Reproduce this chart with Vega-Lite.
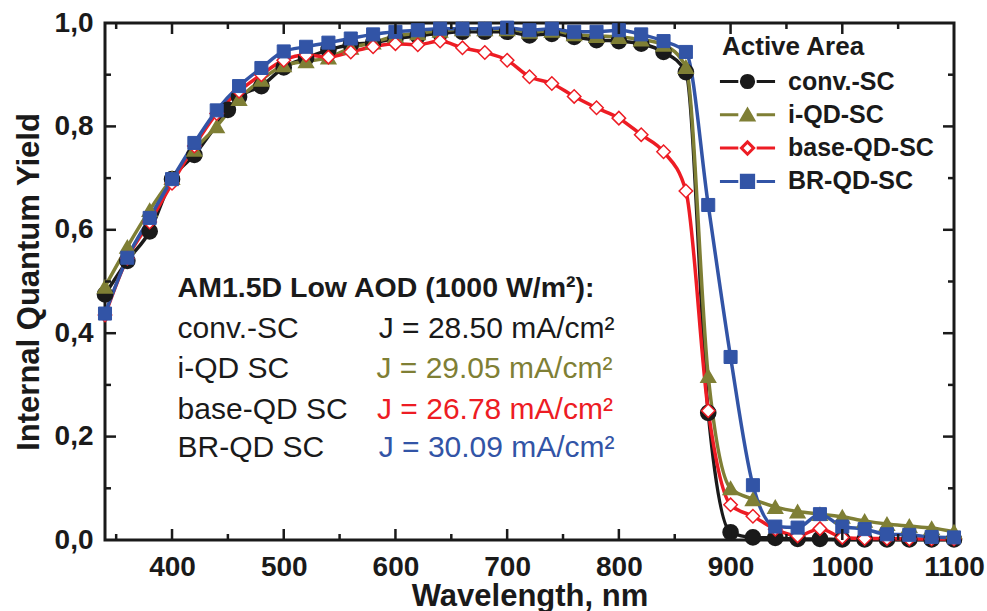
{
  "$schema": "https://vega.github.io/schema/vega-lite/v6.json",
  "width": 849,
  "height": 517,
  "autosize": {"type": "none"},
  "padding": {"left": 105, "top": 23, "right": 33, "bottom": 71},
  "background": "white",
  "config": {
    "view": {"stroke": "#1a1a1a", "strokeWidth": 3},
    "font": "Liberation Sans",
    "axis": {"grid": false, "domain": false, "ticks": false, "labelFlush": false, "labelOverlap": false, "labelColor": "#1a1a1a", "titleColor": "#1a1a1a", "labelFont": "Liberation Sans", "titleFont": "Liberation Sans"}
  },
  "datasets": {
    "iqy": [
      {"series": "conv.-SC", "nm": 340, "q": 0.475},
      {"series": "conv.-SC", "nm": 360, "q": 0.54},
      {"series": "conv.-SC", "nm": 380, "q": 0.597},
      {"series": "conv.-SC", "nm": 400, "q": 0.698},
      {"series": "conv.-SC", "nm": 420, "q": 0.745},
      {"series": "conv.-SC", "nm": 450, "q": 0.832},
      {"series": "conv.-SC", "nm": 460, "q": 0.857},
      {"series": "conv.-SC", "nm": 480, "q": 0.878},
      {"series": "conv.-SC", "nm": 500, "q": 0.914},
      {"series": "conv.-SC", "nm": 520, "q": 0.932},
      {"series": "conv.-SC", "nm": 540, "q": 0.948},
      {"series": "conv.-SC", "nm": 560, "q": 0.958},
      {"series": "conv.-SC", "nm": 580, "q": 0.962},
      {"series": "conv.-SC", "nm": 600, "q": 0.970},
      {"series": "conv.-SC", "nm": 620, "q": 0.975},
      {"series": "conv.-SC", "nm": 640, "q": 0.980},
      {"series": "conv.-SC", "nm": 660, "q": 0.983},
      {"series": "conv.-SC", "nm": 680, "q": 0.983},
      {"series": "conv.-SC", "nm": 700, "q": 0.983},
      {"series": "conv.-SC", "nm": 720, "q": 0.976},
      {"series": "conv.-SC", "nm": 740, "q": 0.979},
      {"series": "conv.-SC", "nm": 760, "q": 0.973},
      {"series": "conv.-SC", "nm": 780, "q": 0.967},
      {"series": "conv.-SC", "nm": 800, "q": 0.965},
      {"series": "conv.-SC", "nm": 820, "q": 0.960},
      {"series": "conv.-SC", "nm": 840, "q": 0.944},
      {"series": "conv.-SC", "nm": 860, "q": 0.905},
      {"series": "conv.-SC", "nm": 880, "q": 0.246},
      {"series": "conv.-SC", "nm": 900, "q": 0.015},
      {"series": "conv.-SC", "nm": 920, "q": 0.005},
      {"series": "conv.-SC", "nm": 940, "q": 0.004},
      {"series": "conv.-SC", "nm": 960, "q": 0.002},
      {"series": "conv.-SC", "nm": 980, "q": 0.002},
      {"series": "conv.-SC", "nm": 1000, "q": 0.001},
      {"series": "conv.-SC", "nm": 1020, "q": 0.001},
      {"series": "conv.-SC", "nm": 1040, "q": 0.001},
      {"series": "conv.-SC", "nm": 1060, "q": 0.001},
      {"series": "conv.-SC", "nm": 1080, "q": 0.001},
      {"series": "conv.-SC", "nm": 1100, "q": 0.001},
      {"series": "i-QD-SC", "nm": 340, "q": 0.49},
      {"series": "i-QD-SC", "nm": 360, "q": 0.567},
      {"series": "i-QD-SC", "nm": 380, "q": 0.638},
      {"series": "i-QD-SC", "nm": 400, "q": 0.70},
      {"series": "i-QD-SC", "nm": 420, "q": 0.755},
      {"series": "i-QD-SC", "nm": 440, "q": 0.80},
      {"series": "i-QD-SC", "nm": 460, "q": 0.853},
      {"series": "i-QD-SC", "nm": 480, "q": 0.89},
      {"series": "i-QD-SC", "nm": 500, "q": 0.918},
      {"series": "i-QD-SC", "nm": 520, "q": 0.926},
      {"series": "i-QD-SC", "nm": 540, "q": 0.933},
      {"series": "i-QD-SC", "nm": 560, "q": 0.952},
      {"series": "i-QD-SC", "nm": 580, "q": 0.962},
      {"series": "i-QD-SC", "nm": 600, "q": 0.975},
      {"series": "i-QD-SC", "nm": 620, "q": 0.980},
      {"series": "i-QD-SC", "nm": 640, "q": 0.985},
      {"series": "i-QD-SC", "nm": 660, "q": 0.988},
      {"series": "i-QD-SC", "nm": 680, "q": 0.988},
      {"series": "i-QD-SC", "nm": 700, "q": 0.988},
      {"series": "i-QD-SC", "nm": 720, "q": 0.983},
      {"series": "i-QD-SC", "nm": 740, "q": 0.985},
      {"series": "i-QD-SC", "nm": 760, "q": 0.978},
      {"series": "i-QD-SC", "nm": 780, "q": 0.975},
      {"series": "i-QD-SC", "nm": 800, "q": 0.973},
      {"series": "i-QD-SC", "nm": 820, "q": 0.968},
      {"series": "i-QD-SC", "nm": 840, "q": 0.958},
      {"series": "i-QD-SC", "nm": 860, "q": 0.915},
      {"series": "i-QD-SC", "nm": 880, "q": 0.317},
      {"series": "i-QD-SC", "nm": 900, "q": 0.10},
      {"series": "i-QD-SC", "nm": 920, "q": 0.079},
      {"series": "i-QD-SC", "nm": 940, "q": 0.064},
      {"series": "i-QD-SC", "nm": 960, "q": 0.055},
      {"series": "i-QD-SC", "nm": 980, "q": 0.050},
      {"series": "i-QD-SC", "nm": 1000, "q": 0.045},
      {"series": "i-QD-SC", "nm": 1020, "q": 0.037},
      {"series": "i-QD-SC", "nm": 1040, "q": 0.031},
      {"series": "i-QD-SC", "nm": 1060, "q": 0.027},
      {"series": "i-QD-SC", "nm": 1080, "q": 0.023},
      {"series": "i-QD-SC", "nm": 1100, "q": 0.016},
      {"series": "base-QD-SC", "nm": 340, "q": 0.435},
      {"series": "base-QD-SC", "nm": 360, "q": 0.545},
      {"series": "base-QD-SC", "nm": 380, "q": 0.615},
      {"series": "base-QD-SC", "nm": 400, "q": 0.69},
      {"series": "base-QD-SC", "nm": 420, "q": 0.762},
      {"series": "base-QD-SC", "nm": 440, "q": 0.825},
      {"series": "base-QD-SC", "nm": 460, "q": 0.868},
      {"series": "base-QD-SC", "nm": 480, "q": 0.90},
      {"series": "base-QD-SC", "nm": 500, "q": 0.928},
      {"series": "base-QD-SC", "nm": 520, "q": 0.938},
      {"series": "base-QD-SC", "nm": 540, "q": 0.934},
      {"series": "base-QD-SC", "nm": 560, "q": 0.944},
      {"series": "base-QD-SC", "nm": 580, "q": 0.954},
      {"series": "base-QD-SC", "nm": 600, "q": 0.960},
      {"series": "base-QD-SC", "nm": 620, "q": 0.958},
      {"series": "base-QD-SC", "nm": 640, "q": 0.965},
      {"series": "base-QD-SC", "nm": 660, "q": 0.952},
      {"series": "base-QD-SC", "nm": 680, "q": 0.943},
      {"series": "base-QD-SC", "nm": 700, "q": 0.928},
      {"series": "base-QD-SC", "nm": 720, "q": 0.896},
      {"series": "base-QD-SC", "nm": 740, "q": 0.883},
      {"series": "base-QD-SC", "nm": 760, "q": 0.858},
      {"series": "base-QD-SC", "nm": 780, "q": 0.836},
      {"series": "base-QD-SC", "nm": 800, "q": 0.816},
      {"series": "base-QD-SC", "nm": 820, "q": 0.784},
      {"series": "base-QD-SC", "nm": 840, "q": 0.751},
      {"series": "base-QD-SC", "nm": 860, "q": 0.675},
      {"series": "base-QD-SC", "nm": 880, "q": 0.25},
      {"series": "base-QD-SC", "nm": 900, "q": 0.068},
      {"series": "base-QD-SC", "nm": 920, "q": 0.046},
      {"series": "base-QD-SC", "nm": 940, "q": 0.021},
      {"series": "base-QD-SC", "nm": 960, "q": 0.008},
      {"series": "base-QD-SC", "nm": 980, "q": 0.022},
      {"series": "base-QD-SC", "nm": 1000, "q": 0.005},
      {"series": "base-QD-SC", "nm": 1020, "q": 0.003},
      {"series": "base-QD-SC", "nm": 1040, "q": 0.003},
      {"series": "base-QD-SC", "nm": 1060, "q": 0.002},
      {"series": "base-QD-SC", "nm": 1080, "q": 0.002},
      {"series": "base-QD-SC", "nm": 1100, "q": 0.002},
      {"series": "BR-QD-SC", "nm": 340, "q": 0.438},
      {"series": "BR-QD-SC", "nm": 360, "q": 0.546},
      {"series": "BR-QD-SC", "nm": 380, "q": 0.623},
      {"series": "BR-QD-SC", "nm": 400, "q": 0.698},
      {"series": "BR-QD-SC", "nm": 420, "q": 0.768},
      {"series": "BR-QD-SC", "nm": 440, "q": 0.831},
      {"series": "BR-QD-SC", "nm": 460, "q": 0.878},
      {"series": "BR-QD-SC", "nm": 480, "q": 0.913},
      {"series": "BR-QD-SC", "nm": 500, "q": 0.945},
      {"series": "BR-QD-SC", "nm": 520, "q": 0.954},
      {"series": "BR-QD-SC", "nm": 540, "q": 0.962},
      {"series": "BR-QD-SC", "nm": 560, "q": 0.970},
      {"series": "BR-QD-SC", "nm": 580, "q": 0.978},
      {"series": "BR-QD-SC", "nm": 600, "q": 0.983},
      {"series": "BR-QD-SC", "nm": 620, "q": 0.986},
      {"series": "BR-QD-SC", "nm": 640, "q": 0.989},
      {"series": "BR-QD-SC", "nm": 660, "q": 0.989},
      {"series": "BR-QD-SC", "nm": 680, "q": 0.989},
      {"series": "BR-QD-SC", "nm": 700, "q": 0.991},
      {"series": "BR-QD-SC", "nm": 720, "q": 0.986},
      {"series": "BR-QD-SC", "nm": 740, "q": 0.989},
      {"series": "BR-QD-SC", "nm": 760, "q": 0.983},
      {"series": "BR-QD-SC", "nm": 780, "q": 0.983},
      {"series": "BR-QD-SC", "nm": 800, "q": 0.986},
      {"series": "BR-QD-SC", "nm": 820, "q": 0.978},
      {"series": "BR-QD-SC", "nm": 840, "q": 0.965},
      {"series": "BR-QD-SC", "nm": 860, "q": 0.944},
      {"series": "BR-QD-SC", "nm": 880, "q": 0.648},
      {"series": "BR-QD-SC", "nm": 900, "q": 0.354},
      {"series": "BR-QD-SC", "nm": 920, "q": 0.106},
      {"series": "BR-QD-SC", "nm": 940, "q": 0.026},
      {"series": "BR-QD-SC", "nm": 960, "q": 0.024},
      {"series": "BR-QD-SC", "nm": 980, "q": 0.050},
      {"series": "BR-QD-SC", "nm": 1000, "q": 0.026},
      {"series": "BR-QD-SC", "nm": 1020, "q": 0.021},
      {"series": "BR-QD-SC", "nm": 1040, "q": 0.011},
      {"series": "BR-QD-SC", "nm": 1060, "q": 0.010},
      {"series": "BR-QD-SC", "nm": 1080, "q": 0.006},
      {"series": "BR-QD-SC", "nm": 1100, "q": 0.005}
    ],
    "xmajor": [{"nm": 400}, {"nm": 500}, {"nm": 600}, {"nm": 700}, {"nm": 800}, {"nm": 900}, {"nm": 1000}],
    "xminor": [{"nm": 350}, {"nm": 450}, {"nm": 550}, {"nm": 650}, {"nm": 750}, {"nm": 850}, {"nm": 950}, {"nm": 1050}],
    "ymajor": [{"q": 0.2}, {"q": 0.4}, {"q": 0.6}, {"q": 0.8}],
    "yminor": [{"q": 0.1}, {"q": 0.3}, {"q": 0.5}, {"q": 0.7}, {"q": 0.9}],
    "header": [
      {"nm": 405, "q": 0.470, "txt": "AM1.5D Low AOD (1000 W/m²):"}
    ],
    "names": [
      {"nm": 405, "q": 0.390, "txt": "conv.-SC"},
      {"nm": 405, "q": 0.3125, "txt": "i-QD SC"},
      {"nm": 405, "q": 0.235, "txt": "base-QD SC"},
      {"nm": 405, "q": 0.161, "txt": "BR-QD SC"}
    ],
    "currents": [
      {"series": "conv.-SC", "nm": 585, "q": 0.390, "txt": "J = 28.50 mA/cm²"},
      {"series": "i-QD-SC", "nm": 583, "q": 0.3125, "txt": "J = 29.05 mA/cm²"},
      {"series": "base-QD-SC", "nm": 583.5, "q": 0.235, "txt": "J = 26.78 mA/cm²"},
      {"series": "BR-QD-SC", "nm": 585, "q": 0.161, "txt": "J = 30.09 mA/cm²"}
    ]
  },
  "layer": [
    {
      "data": {"name": "iqy"},
      "mark": {"type": "line", "interpolate": "monotone", "strokeWidth": 3.5},
      "encoding": {
        "x": {
          "field": "nm", "type": "quantitative",
          "scale": {"domain": [340, 1100], "nice": false, "zero": false},
          "axis": {
            "orient": "bottom", "ticks": false,
            "values": [400, 500, 600, 700, 800, 900, 1000, 1100],
            "format": "d",
            "labelFontSize": 28, "labelFontWeight": "bold", "labelPadding": 13,
            "title": "Wavelength, nm", "titleFontSize": 31, "titleFontWeight": "bold", "titlePadding": 0
          }
        },
        "y": {
          "field": "q", "type": "quantitative",
          "scale": {"domain": [0, 1], "nice": false, "zero": false},
          "axis": {
            "orient": "left", "ticks": false,
            "values": [0, 0.2, 0.4, 0.6, 0.8, 1.0],
            "labelExpr": "replace(format(datum.value, '.1f'), '.', ',')",
            "labelFontSize": 28, "labelFontWeight": "bold", "labelPadding": 12,
            "title": "Internal Quantum Yield", "titleFontSize": 31, "titleFontWeight": "bold", "titlePadding": 9
          }
        },
        "color": {
          "field": "series", "type": "nominal",
          "scale": {"domain": ["conv.-SC", "i-QD-SC", "base-QD-SC", "BR-QD-SC"], "range": ["#1a1a1a", "#7f7f35", "#ed1c24", "#3254a6"]},
          "legend": {
            "orient": "none", "legendX": 617, "legendY": 11,
            "title": "Active Area", "titleFontSize": 26, "titleFontWeight": "bold", "titleFont": "Liberation Sans", "titlePadding": 9, "titleOpacity": 0,
            "labelFontSize": 25, "labelFontWeight": "bold", "labelFont": "Liberation Sans", "labelOffset": 28, "labelLimit": 400, "labelOpacity": 0,
            "symbolType": "M-4.5 0H-1.5M1.5 0H4.5", "symbolSize": 150, "symbolOffset": 13, "symbolStrokeWidth": 3, "symbolOpacity": 1, "rowPadding": 7.3, "padding": 0
          }
        }
      }
    },
    {
      "data": {"name": "iqy"},
      "mark": {"type": "point", "filled": true, "opacity": 1},
      "encoding": {
        "x": {"field": "nm", "type": "quantitative"},
        "y": {"field": "q", "type": "quantitative"},
        "shape": {
          "field": "series", "type": "nominal",
          "scale": {"domain": ["conv.-SC", "i-QD-SC", "base-QD-SC", "BR-QD-SC"], "range": ["circle", "triangle-up", "diamond", "square"]},
          "legend": {
            "orient": "none", "legendX": 617, "legendY": 11,
            "title": "Active Area", "titleFontSize": 26, "titleFontWeight": "bold", "titleColor": "#1a1a1a", "titleFont": "Liberation Sans", "titlePadding": 9,
            "labelFontSize": 25, "labelFontWeight": "bold", "labelColor": "#1a1a1a", "labelFont": "Liberation Sans", "labelOffset": 28, "labelLimit": 400,
            "symbolSize": 150, "symbolOffset": 13, "symbolStrokeWidth": 3, "symbolOpacity": 1, "rowPadding": 7.3, "padding": 0
          }
        },
        "stroke": {
          "field": "series", "type": "nominal",
          "scale": {"domain": ["conv.-SC", "i-QD-SC", "base-QD-SC", "BR-QD-SC"], "range": ["#1a1a1a", "#7f7f35", "#ed1c24", "#3254a6"]},
          "legend": {
            "orient": "none", "legendX": 617, "legendY": 11,
            "title": "Active Area", "titleFontSize": 26, "titleFontWeight": "bold", "titleColor": "#1a1a1a", "titleFont": "Liberation Sans", "titlePadding": 9,
            "labelFontSize": 25, "labelFontWeight": "bold", "labelColor": "#1a1a1a", "labelFont": "Liberation Sans", "labelOffset": 28, "labelLimit": 400,
            "symbolSize": 150, "symbolOffset": 13, "symbolStrokeWidth": 3, "symbolOpacity": 1, "rowPadding": 7.3, "padding": 0
          }
        },
        "fill": {
          "field": "series", "type": "nominal",
          "scale": {"domain": ["conv.-SC", "i-QD-SC", "base-QD-SC", "BR-QD-SC"], "range": ["#1a1a1a", "#7f7f35", "#ffffff", "#3254a6"]},
          "legend": {
            "orient": "none", "legendX": 617, "legendY": 11,
            "title": "Active Area", "titleFontSize": 26, "titleFontWeight": "bold", "titleColor": "#1a1a1a", "titleFont": "Liberation Sans", "titlePadding": 9,
            "labelFontSize": 25, "labelFontWeight": "bold", "labelColor": "#1a1a1a", "labelFont": "Liberation Sans", "labelOffset": 28, "labelLimit": 400,
            "symbolSize": 150, "symbolOffset": 13, "symbolStrokeWidth": 3, "symbolOpacity": 1, "rowPadding": 7.3, "padding": 0
          }
        },
        "size": {
          "field": "series", "type": "nominal",
          "scale": {"domain": ["BR-QD-SC", "base-QD-SC", "i-QD-SC", "conv.-SC"], "range": [170, 200, 200, 180]},
          "legend": null
        },
        "strokeWidth": {
          "field": "series", "type": "nominal",
          "scale": {"domain": ["BR-QD-SC", "base-QD-SC", "i-QD-SC", "conv.-SC"], "range": [1, 2.5, 1, 1]},
          "legend": null
        }
      }
    },
    {
      "data": {"name": "xmajor"},
      "mark": {"type": "rule", "stroke": "#1a1a1a", "strokeWidth": 2.5},
      "encoding": {
        "x": {"field": "nm", "type": "quantitative"},
        "y": {"datum": 0, "type": "quantitative"},
        "y2": {"datum": 0.0213}
      }
    },
    {
      "data": {"name": "xmajor"},
      "mark": {"type": "rule", "stroke": "#1a1a1a", "strokeWidth": 2.5},
      "encoding": {
        "x": {"field": "nm", "type": "quantitative"},
        "y": {"datum": 1, "type": "quantitative"},
        "y2": {"datum": 0.9787}
      }
    },
    {
      "data": {"name": "xminor"},
      "mark": {"type": "rule", "stroke": "#1a1a1a", "strokeWidth": 2.5},
      "encoding": {
        "x": {"field": "nm", "type": "quantitative"},
        "y": {"datum": 0, "type": "quantitative"},
        "y2": {"datum": 0.0116}
      }
    },
    {
      "data": {"name": "xminor"},
      "mark": {"type": "rule", "stroke": "#1a1a1a", "strokeWidth": 2.5},
      "encoding": {
        "x": {"field": "nm", "type": "quantitative"},
        "y": {"datum": 1, "type": "quantitative"},
        "y2": {"datum": 0.9884}
      }
    },
    {
      "data": {"name": "ymajor"},
      "mark": {"type": "rule", "stroke": "#1a1a1a", "strokeWidth": 2.5},
      "encoding": {
        "y": {"field": "q", "type": "quantitative"},
        "x": {"datum": 340, "type": "quantitative"},
        "x2": {"datum": 349.85}
      }
    },
    {
      "data": {"name": "ymajor"},
      "mark": {"type": "rule", "stroke": "#1a1a1a", "strokeWidth": 2.5},
      "encoding": {
        "y": {"field": "q", "type": "quantitative"},
        "x": {"datum": 1100, "type": "quantitative"},
        "x2": {"datum": 1090.15}
      }
    },
    {
      "data": {"name": "yminor"},
      "mark": {"type": "rule", "stroke": "#1a1a1a", "strokeWidth": 2.5},
      "encoding": {
        "y": {"field": "q", "type": "quantitative"},
        "x": {"datum": 340, "type": "quantitative"},
        "x2": {"datum": 345.37}
      }
    },
    {
      "data": {"name": "yminor"},
      "mark": {"type": "rule", "stroke": "#1a1a1a", "strokeWidth": 2.5},
      "encoding": {
        "y": {"field": "q", "type": "quantitative"},
        "x": {"datum": 1100, "type": "quantitative"},
        "x2": {"datum": 1094.63}
      }
    },
    {
      "data": {"name": "header"},
      "mark": {"type": "text", "align": "left", "baseline": "alphabetic", "font": "Liberation Sans", "fontSize": 28.5, "fontWeight": "bold", "fill": "#1a1a1a"},
      "encoding": {
        "x": {"field": "nm", "type": "quantitative"},
        "y": {"field": "q", "type": "quantitative"},
        "text": {"field": "txt"}
      }
    },
    {
      "data": {"name": "names"},
      "mark": {"type": "text", "align": "left", "baseline": "alphabetic", "font": "Liberation Sans", "fontSize": 30, "fill": "#1a1a1a"},
      "encoding": {
        "x": {"field": "nm", "type": "quantitative"},
        "y": {"field": "q", "type": "quantitative"},
        "text": {"field": "txt"}
      }
    },
    {
      "data": {"name": "currents"},
      "mark": {"type": "text", "align": "left", "baseline": "alphabetic", "font": "Liberation Sans", "fontSize": 30},
      "encoding": {
        "x": {"field": "nm", "type": "quantitative"},
        "y": {"field": "q", "type": "quantitative"},
        "text": {"field": "txt"},
        "color": {
          "field": "series", "type": "nominal",
          "scale": {"domain": ["conv.-SC", "i-QD-SC", "base-QD-SC", "BR-QD-SC"], "range": ["#1a1a1a", "#7f7f35", "#ed1c24", "#3254a6"]},
          "legend": null
        }
      }
    }
  ],
  "resolve": {"scale": {"color": "independent"}}
}
